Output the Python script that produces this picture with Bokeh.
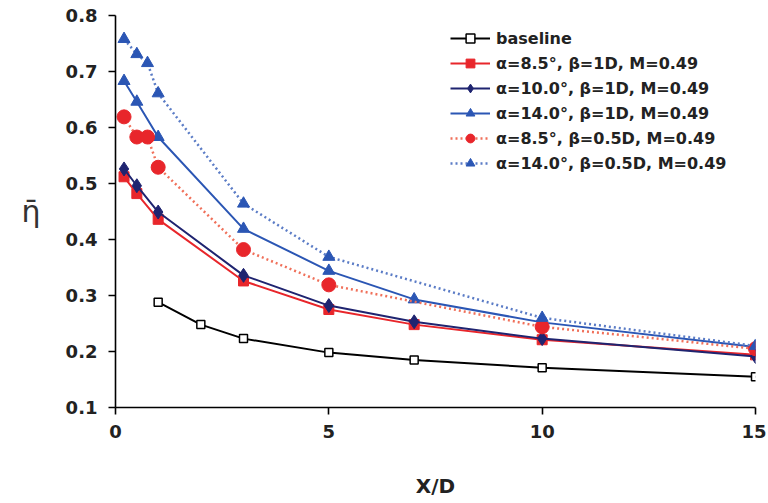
from bokeh.plotting import figure
from bokeh.models import Range1d, FixedTicker, Legend, LegendItem
from bokeh.embed import file_html
from bokeh.resources import INLINE

# ---- data ----
x_base = [1, 2, 3, 5, 7, 10, 15]
eta_base = [0.288, 0.248, 0.223, 0.198, 0.185, 0.171, 0.155]

x_1d = [0.2, 0.5, 1, 3, 5, 7, 10, 15]
eta_a85_1d = [0.512, 0.482, 0.436, 0.326, 0.275, 0.248, 0.221, 0.194]
eta_a10_1d = [0.526, 0.496, 0.449, 0.336, 0.282, 0.253, 0.223, 0.191]
eta_a14_1d = [0.683, 0.646, 0.583, 0.419, 0.344, 0.293, 0.252, 0.208]

x_05d = [0.2, 0.5, 0.75, 1, 3, 5, 10, 15]
eta_a85_05d = [0.619, 0.583, 0.583, 0.529, 0.382, 0.319, 0.244, 0.205]
eta_a14_05d = [0.758, 0.731, 0.715, 0.661, 0.464, 0.369, 0.260, 0.210]

labels = [
    "baseline",
    "α=8.5°, β=1D, M=0.49",
    "α=10.0°, β=1D, M=0.49",
    "α=14.0°, β=1D, M=0.49",
    "α=8.5°, β=0.5D, M=0.49",
    "α=14.0°, β=0.5D, M=0.49",
]
x_ticks = [0, 5, 10, 15]
y_ticks = [0.1, 0.2, 0.3, 0.4, 0.5, 0.6, 0.7, 0.8]

FONT = "DejaVu Sans"
RED = "#e8262b"
NAVY = "#1f2470"
BLUE = "#2b56b4"

p = figure(width=766, height=500, output_backend="svg", toolbar_location=None,
           x_range=Range1d(0, 15), y_range=Range1d(0.1, 0.8),
           min_border_left=115, min_border_right=11, min_border_top=15, min_border_bottom=92)
p.outline_line_color = None
p.xgrid.visible = False
p.ygrid.visible = False
p.background_fill_color = "white"

for ax in (p.xaxis[0], p.yaxis[0]):
    ax.axis_line_width = 1.6
    ax.axis_line_color = "black"
    ax.major_tick_line_width = 1.6
    ax.major_tick_in = 0
    ax.major_tick_out = 7
    ax.minor_tick_line_color = None
    ax.major_label_text_font = FONT
    ax.major_label_text_font_style = "bold"
    ax.major_label_text_font_size = "18px"
    ax.major_label_text_color = "#222222"

p.xaxis.ticker = FixedTicker(ticks=x_ticks)
p.yaxis.ticker = FixedTicker(ticks=y_ticks)
p.xaxis.major_label_standoff = 10
p.yaxis.major_label_standoff = 11
p.xaxis.axis_label = "X/D"
p.xaxis.axis_label_text_font = FONT
p.xaxis.axis_label_text_font_style = "bold"
p.xaxis.axis_label_text_font_size = "20px"
p.xaxis.axis_label_text_color = "#222222"
p.xaxis.axis_label_standoff = 33

p.yaxis.axis_label = "η̄"
p.yaxis.axis_label_text_font = FONT
p.yaxis.axis_label_text_font_style = "normal"
p.yaxis.axis_label_text_font_size = "30px"
p.yaxis.axis_label_text_color = "#333333"
p.yaxis.axis_label_standoff = 22
try:
    p.yaxis.axis_label_orientation = "horizontal"
except Exception:
    pass

# series
r_b_l = p.line(x_base, eta_base, line_color="black", line_width=2)
r_b_m = p.scatter(x_base, eta_base, marker="square", size=8, fill_color="white",
                  line_color="black", line_width=1.5)

r1_l = p.line(x_1d, eta_a85_1d, line_color=RED, line_width=2)
r1_m = p.scatter(x_1d, eta_a85_1d, marker="square", size=10, fill_color=RED, line_color=RED)

r2_l = p.line(x_1d, eta_a10_1d, line_color=NAVY, line_width=2)
r2_m = p.scatter(x_1d, eta_a10_1d, marker="diamond", size=14, fill_color=NAVY, line_color=NAVY)

r3_l = p.line(x_1d, eta_a14_1d, line_color=BLUE, line_width=2)
r3_m = p.scatter(x_1d, eta_a14_1d, marker="triangle", size=12, fill_color=BLUE, line_color=BLUE)

r4_l = p.line(x_05d, eta_a85_05d, line_color="#f0705a", line_width=2.5, line_dash="2 3")
r4_m = p.scatter(x_05d, eta_a85_05d, marker="circle", size=14, fill_color=RED, line_color=RED)

r5_l = p.line(x_05d, eta_a14_05d, line_color="#5b7cc6", line_width=2.5, line_dash="2 3")
r5_m = p.scatter(x_05d, eta_a14_05d, marker="triangle", size=12, fill_color=BLUE, line_color=BLUE)

items = [
    LegendItem(label=labels[0], renderers=[r_b_l, r_b_m]),
    LegendItem(label=labels[1], renderers=[r1_l, r1_m]),
    LegendItem(label=labels[2], renderers=[r2_l, r2_m]),
    LegendItem(label=labels[3], renderers=[r3_l, r3_m]),
    LegendItem(label=labels[4], renderers=[r4_l, r4_m]),
    LegendItem(label=labels[5], renderers=[r5_l, r5_m]),
]
legend = Legend(items=items, location=(335, 233), border_line_color=None,
                background_fill_alpha=0, padding=0, margin=0, spacing=3,
                glyph_width=40, glyph_height=22, label_height=22, label_standoff=6,
                label_text_font=FONT, label_text_font_style="bold",
                label_text_font_size="16px", label_text_color="#222222")
p.add_layout(legend, "center")

open("out.html", "w").write(file_html(p, INLINE))
